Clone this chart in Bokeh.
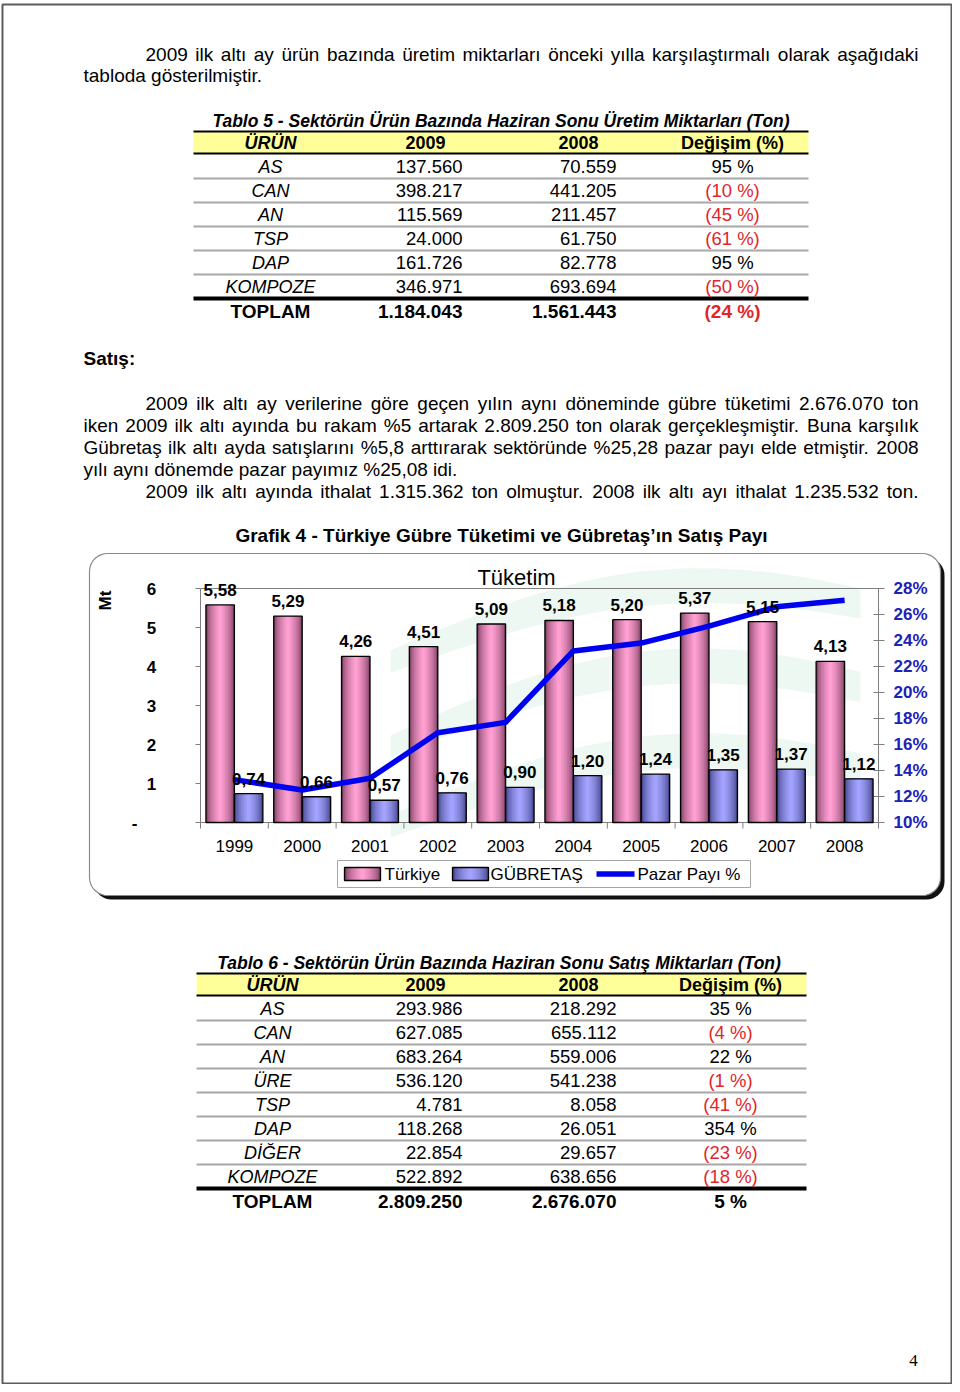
import numpy as np
from bokeh.plotting import figure
from bokeh.models import Range1d, ColumnDataSource
from bokeh.core.properties import value
from bokeh.embed import file_html
from bokeh.resources import INLINE

# ---------------- data ----------------
years = ["1999", "2000", "2001", "2002", "2003", "2004", "2005", "2006", "2007", "2008"]
turkiye = [5.58, 5.29, 4.26, 4.51, 5.09, 5.18, 5.20, 5.37, 5.15, 4.13]
gubretas = [0.74, 0.66, 0.57, 0.76, 0.90, 1.20, 1.24, 1.35, 1.37, 1.12]
pazar_payi = [13.3, 12.5, 13.4, 16.9, 17.7, 23.2, 23.8, 25.1, 26.6, 27.1]
mt_ticks = [0, 1, 2, 3, 4, 5, 6]
mt_tick_labels = ["-", "1", "2", "3", "4", "5", "6"]
pct_ticks = [10, 12, 14, 16, 18, 20, 22, 24, 26, 28]
pct_tick_labels = ["10%", "12%", "14%", "16%", "18%", "20%", "22%", "24%", "26%", "28%"]
legend_labels = ["Türkiye", "GÜBRETAŞ", "Pazar Payı %"]

table_header = ["ÜRÜN", "2009", "2008", "Değişim (%)"]

t5_title = "Tablo 5 - Sektörün Ürün Bazında Haziran Sonu Üretim Miktarları (Ton)"
t5_products = ["AS", "CAN", "AN", "TSP", "DAP", "KOMPOZE"]
t5_2009 = ["137.560", "398.217", "115.569", "24.000", "161.726", "346.971"]
t5_2008 = ["70.559", "441.205", "211.457", "61.750", "82.778", "693.694"]
t5_change = ["95 %", "(10 %)", "(45 %)", "(61 %)", "95 %", "(50 %)"]
t5_total = ["TOPLAM", "1.184.043", "1.561.443", "(24 %)"]

t6_title = "Tablo 6 -  Sektörün Ürün Bazında Haziran Sonu Satış Miktarları (Ton)"
t6_products = ["AS", "CAN", "AN", "ÜRE", "TSP", "DAP", "DİĞER", "KOMPOZE"]
t6_2009 = ["293.986", "627.085", "683.264", "536.120", "4.781", "118.268", "22.854", "522.892"]
t6_2008 = ["218.292", "655.112", "559.006", "541.238", "8.058", "26.051", "29.657", "638.656"]
t6_change = ["35 %", "(4 %)", "22 %", "(1 %)", "(41 %)", "354 %", "(23 %)", "(18 %)"]
t6_total = ["TOPLAM", "2.809.250", "2.676.070", "5 %"]

para1 = ["2009 ilk altı ay ürün bazında üretim miktarları önceki yılla karşılaştırmalı olarak aşağıdaki",
         "tabloda gösterilmiştir."]
section_title = "Satış:"
para2 = ["2009 ilk altı ay verilerine göre geçen yılın aynı döneminde gübre tüketimi 2.676.070 ton",
         "iken 2009 ilk altı ayında bu rakam %5 artarak 2.809.250 ton olarak gerçekleşmiştir. Buna karşılık",
         "Gübretaş ilk altı ayda satışlarını %5,8 arttırarak sektöründe %25,28 pazar payı elde etmiştir. 2008",
         "yılı aynı dönemde pazar payımız %25,08 idi.",
         "2009 ilk altı ayında ithalat 1.315.362 ton olmuştur. 2008 ilk altı ayı ithalat 1.235.532 ton."]
chart_title = "Grafik 4 - Türkiye Gübre Tüketimi ve Gübretaş’ın Satış Payı"
plot_title = "Tüketim"
axis_title = "Mt"
page_number = "4"

# ---------------- page figure (page pixel coordinates) ----------------
FONT = "Liberation Sans"
W, H = 952, 1384
X0, X1, Y0, Y1 = 0, 952, 0, 1384
p = figure(width=W, height=H, x_range=Range1d(X0, X1), y_range=Range1d(Y1, Y0),
           output_backend="svg", toolbar_location=None,
           x_axis_location=None, y_axis_location=None,
           min_border=0, min_border_left=0, min_border_right=0,
           min_border_top=0, min_border_bottom=0,
           outline_line_color=None, background_fill_color="white",
           border_fill_color="white")
p.xgrid.visible = False
p.ygrid.visible = False


def rng_x(a, pa, b, pb):
    k = (b - a) / (pb - pa)
    return Range1d(start=a + (X0 - pa) * k, end=a + (X1 - pa) * k)


def rng_y(a, pa, b, pb):
    k = (b - a) / (pb - pa)
    return Range1d(start=a + (Y1 - pa) * k, end=a + (Y0 - pa) * k)


# chart plot-area placement on the page
PL, PR, PT, PB = 200, 878, 588, 822
n = len(years)
p.extra_x_ranges = {"cat": rng_x(-0.5, PL, n - 0.5, PR)}
p.extra_y_ranges = {"mt": rng_y(mt_ticks[0], PB, mt_ticks[-1], PT),
                    "pct": rng_y(pct_ticks[0], PB, pct_ticks[-1], PT)}
MT_PER_PX = (mt_ticks[-1] - mt_ticks[0]) / (PB - PT)
PCT_PER_PX = (pct_ticks[-1] - pct_ticks[0]) / (PB - PT)
CAT_PER_PX = n / (PR - PL)


def add_text(xs, ys, texts, size, style="normal", color="#000000", align="left",
             baseline="middle", font=FONT, xr="default", yr="default", angle=0.0):
    src = ColumnDataSource(dict(x=list(xs), y=list(ys), text=list(texts)))
    p.text(x="x", y="y", text="text", source=src, x_range_name=xr, y_range_name=yr,
           text_font=value(font), text_font_size=value(f"{size}px"),
           text_font_style=value(style), text_color=value(color),
           text_align=value(align), text_baseline=value(baseline), angle=angle)


# Arial / Liberation Sans advance widths (1/1000 em) for justification
AW = {' ': 278, '%': 889, ',': 278, '.': 278, '-': 333, '(': 333, ')': 333, ':': 278}
for d in '0123456789':
    AW[d] = 556
AW.update(dict(A=667, B=667, C=722, D=722, E=667, F=611, G=778, H=722, I=278, J=500, K=667,
               L=556, M=833, N=722, O=778, P=667, Q=778, R=722, S=667, T=611, U=722, V=667,
               W=944, X=667, Y=667, Z=611))
AW.update(dict(a=556, b=556, c=500, d=556, e=556, f=278, g=556, h=556, i=222, j=222, k=500,
               l=222, m=833, n=556, o=556, p=556, q=556, r=333, s=500, t=278, u=556, v=500,
               w=722, x=500, y=500, z=500))
AW.update({'ı': 278, 'ş': 500, 'ç': 500, 'ğ': 556, 'ü': 556, 'ö': 556, 'Ş': 667, 'Ü': 722,
           'Ö': 778, 'Ç': 722, 'İ': 278, 'Ğ': 778})


def tw(s, size):
    return sum(AW.get(ch, 556) for ch in s) / 1000.0 * size


BODY = 19


def body_line(text, x0, x1, y, justify):
    if not justify:
        add_text([x0], [y], [text], BODY)
        return
    words = text.split(" ")
    ws = [tw(w, BODY) for w in words]
    gap = (x1 - x0 - sum(ws)) / (len(words) - 1)
    xs, cx = [], x0
    for w_ in ws:
        xs.append(cx)
        cx += w_ + gap
    add_text(xs, [y] * len(words), words, BODY)


# page border
p.quad(left=2, right=951, top=4, bottom=1383, fill_color=None, line_color="#5c5c5c", line_width=2)

# paragraph 1
body_line(para1[0], 145, 918, 54, True)
body_line(para1[1], 83, 918, 75, False)


# ---------------- tables ----------------
def hline(y, x0, x1, color, width):
    p.segment(x0=[x0], y0=[y], x1=[x1], y1=[y], line_color=color, line_width=width)


def draw_table(title, prods, v09, v08, chg, total, ty, xl, xr, name_x, ch_x):
    add_text([(xl + xr) / 2], [ty], [title], 17.5, "bold italic", align="center")
    top = ty + 11
    p.quad(left=xl, right=xr, top=top, bottom=top + 22, fill_color="#ffff99", line_color=None)
    hline(top, xl, xr, "#000000", 2)
    hy = top + 11
    add_text([name_x], [hy], [table_header[0]], 18, "bold italic", align="center")
    add_text([425, 578, ch_x], [hy] * 3, table_header[1:], 18, "bold", align="center")
    hline(top + 22, xl, xr, "#000000", 2)
    rows = [top + 35 + 24 * i for i in range(len(prods))]
    for ry in rows[:-1]:
        hline(ry + 12, xl, xr, "#a8a8a8", 2)
    hline(rows[-1] + 12, xl, xr, "#000000", 4)
    add_text([name_x] * len(prods), rows, prods, 18, "italic", align="center")
    add_text([462] * len(prods), rows, v09, 18.5, align="right")
    add_text([616] * len(prods), rows, v08, 18.5, align="right")
    for ry, c in zip(rows, chg):
        add_text([ch_x], [ry], [c], 18.5, color="#e0262c" if c.startswith("(") else "#000000",
                 align="center")
    tyy = rows[-1] + 25
    add_text([name_x], [tyy], [total[0]], 19, "bold", align="center")
    add_text([462], [tyy], [total[1]], 19, "bold", align="right")
    add_text([616], [tyy], [total[2]], 19, "bold", align="right")
    add_text([ch_x], [tyy], [total[3]], 19, "bold",
             color="#e0262c" if total[3].startswith("(") else "#000000", align="center")


draw_table(t5_title, t5_products, t5_2009, t5_2008, t5_change, t5_total, 120, 193, 808, 270, 732)

add_text([83], [358], [section_title], BODY, "bold")
for i, line in enumerate(para2):
    x0 = 145 if i in (0, 4) else 83
    body_line(line, x0, 918, 403 + 22 * i, i != 3)

# ---------------- chart ----------------
add_text([501], [535], [chart_title], 19, "bold", align="center")


def rrect(x0, y0, x1, y1, r, m=10):
    xs, ys = [], []
    for cx, cy, a0, a1 in [(x1 - r, y0 + r, -90, 0), (x1 - r, y1 - r, 0, 90),
                           (x0 + r, y1 - r, 90, 180), (x0 + r, y0 + r, 180, 270)]:
        t = np.radians(np.linspace(a0, a1, m))
        xs += list(cx + r * np.cos(t))
        ys += list(cy + r * np.sin(t))
    return xs, ys


sx, sy = rrect(93, 557, 944, 899, 18)
p.patch(sx, sy, fill_color="#111111", line_color=None)
bx, by = rrect(89, 553, 940, 895, 18)
p.patch(bx, by, fill_color="white", line_color="#8a8a8a", line_width=1.2)

# faint watermark waves (logo)
tt = np.linspace(0, 1, 40)
for yb, amp in [(650, 55), (735, 60), (815, 55)]:
    xw = 390 + 470 * tt
    up = yb - amp * np.sin(np.pi * tt * 0.9) - 45 * tt
    lo = yb + 22 - (amp - 10) * np.sin(np.pi * tt * 0.9) - 40 * tt
    p.patch(list(xw) + list(xw[::-1]), list(up) + list(lo[::-1]),
            fill_color="#d4f0e0", fill_alpha=0.45, line_color=None)

# plot area border and axis ticks
p.quad(left=-0.5, right=n - 0.5, bottom=mt_ticks[0], top=mt_ticks[-1],
       x_range_name="cat", y_range_name="mt", fill_color=None, line_color="#7f7f7f", line_width=1)
lt = 5 * CAT_PER_PX
p.segment(x0=[-0.5] * len(mt_ticks), x1=[-0.5 - lt] * len(mt_ticks), y0=mt_ticks, y1=mt_ticks,
          x_range_name="cat", y_range_name="mt", line_color="#7f7f7f")
p.segment(x0=[n - 0.5 - lt] * len(pct_ticks), x1=[n - 0.5 + 1.2 * lt] * len(pct_ticks),
          y0=pct_ticks, y1=pct_ticks, x_range_name="cat", y_range_name="pct", line_color="#7f7f7f")
bt = [k - 0.5 for k in range(n + 1)]
p.segment(x0=bt, x1=bt, y0=[0] * len(bt), y1=[-6 * MT_PER_PX] * len(bt),
          x_range_name="cat", y_range_name="mt", line_color="#7f7f7f")

idx = np.arange(n)
BW = 0.42
src = ColumnDataSource(dict(idx=idx, xp=idx - BW / 2, xb=idx + BW / 2,
                            tr=turkiye, gb=gubretas, pp=pazar_payi))


def mix(c0, c1, t):
    a = [int(c0[i:i + 2], 16) for i in (1, 3, 5)]
    b = [int(c1[i:i + 2], 16) for i in (1, 3, 5)]
    return "#" + "".join(f"{int(round(a[j] + (b[j] - a[j]) * t)):02x}" for j in range(3))


STEPS = 9
PINK = ("#7e4062", "#ff9fd2")
BLUE = ("#44448a", "#a3a3ff")
for xcol, ycol, (ce, cc) in [("xp", "tr", PINK), ("xb", "gb", BLUE)]:
    for k in range(STEPS):
        f = 1 - k / STEPS
        t = (k / (STEPS - 1)) ** 0.6
        p.vbar(x=xcol, width=BW * f, top=ycol, bottom=0, source=src, x_range_name="cat",
               y_range_name="mt", fill_color=mix(ce, cc, t), line_color=None)
    p.vbar(x=xcol, width=BW, top=ycol, bottom=0, source=src, x_range_name="cat",
           y_range_name="mt", fill_color=None, line_color="#000000", line_width=1.3)

p.line(x="idx", y="pp", source=src, x_range_name="cat", y_range_name="pct",
       line_color="#0000f0", line_width=5.5, line_join="round")

# data labels
lab_off = 9 * MT_PER_PX
add_text(idx - BW / 2, [v + lab_off for v in turkiye], [f"{v:.2f}".replace(".", ",") for v in turkiye],
         17, "bold", align="center", baseline="bottom", xr="cat", yr="mt")
add_text(idx + BW / 2, [v + lab_off for v in gubretas], [f"{v:.2f}".replace(".", ",") for v in gubretas],
         17, "bold", align="center", baseline="bottom", xr="cat", yr="mt")

# axes labels
add_text([134 if s == "-" else 151 for s in mt_tick_labels], mt_ticks, mt_tick_labels, 17, "bold",
         align="center", yr="mt")
add_text([893] * len(pct_ticks), pct_ticks, pct_tick_labels, 17, "bold", color="#2020b8",
         align="left", yr="pct")
add_text(idx, [845] * n, years, 17, align="center", xr="cat")
add_text([105], [600], [axis_title], 17, "bold", align="center", angle=np.pi / 2)
add_text([516], [577], [plot_title], 22, align="center")

# legend
p.quad(left=337, right=750, top=860, bottom=887, fill_color="white", line_color="#a6a6a6")
for (lx, (ce, cc)) in [(344, PINK), (452, BLUE)]:
    for k in range(STEPS):
        f = 1 - k / STEPS
        t = (k / (STEPS - 1)) ** 0.6
        half = 18 * f
        p.quad(left=lx + 18 - half, right=lx + 18 + half, top=867, bottom=880,
               fill_color=mix(ce, cc, t), line_color=None)
    p.quad(left=lx, right=lx + 36, top=867, bottom=880, fill_color=None, line_color="#000000",
           line_width=1.3)
p.segment(x0=[596], x1=[634], y0=[873.5], y1=[873.5], line_color="#0000f0", line_width=5.5)
add_text([384, 490, 637], [874] * 3, legend_labels, 17)

# ---------------- table 6 ----------------
draw_table(t6_title, t6_products, t6_2009, t6_2008, t6_change, t6_total, 962, 196, 806, 272, 730)

add_text([913], [1360], [page_number], 17, font="Liberation Serif", align="center")

open("out.html", "w").write(file_html(p, INLINE))
